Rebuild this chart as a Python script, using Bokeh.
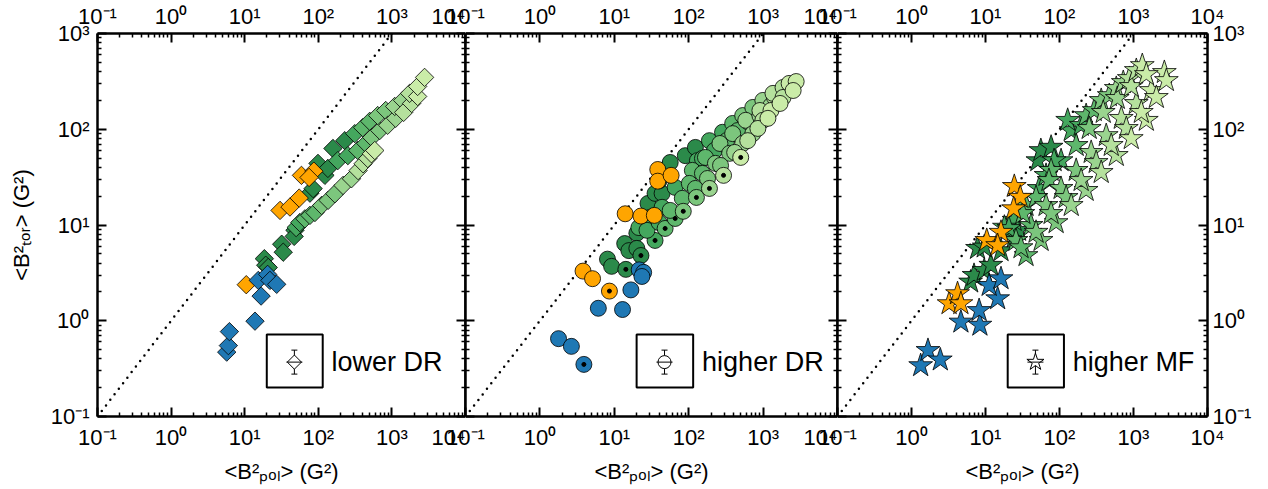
import math
from bokeh.plotting import figure
from bokeh.layouts import row
from bokeh.models import FixedTicker, LogAxis, Label, Range1d, CustomJSTickFormatter, Grid
from bokeh.embed import file_html
from bokeh.resources import INLINE

FONT = "Liberation Sans"

# ---------------- data ----------------
X_TICKS = [0.1, 1, 10, 100, 1000, 10000]
Y_TICKS = [0.1, 1, 10, 100, 1000]
DIAG = [0.1, 1000]

X_LABEL = "<B²ₚₒₗ> (G²)"
Y_LABEL = "<B²ₜₒᵣ> (G²)"
PANEL_NAMES = ["lower DR", "higher DR", "higher MF"]

GROUP_ORDER = ["g0", "g1", "g2", "g3", "g4", "g5", "g6", "o", "b"]
COLORS = {"b": "#1f78b4", "o": "#ffa500", "g0": "#2b8a4a", "g1": "#44a75e",
          "g2": "#5eb76c", "g3": "#7cc67d", "g4": "#9ad48f", "g5": "#b5e19d",
          "g6": "#caeca8"}

# panel 1 (lower DR), diamonds
P1_B_X = [5.7, 6.0, 6.2, 13.8, 16.7, 15.3, 20.5, 22, 27.2]
P1_B_Y = [0.47, 0.55, 0.77, 0.99, 1.81, 2.64, 3.05, 2.64, 2.4]
P1_O_X = [10.5, 30.2, 41.2, 55, 59, 87, 75]
P1_O_Y = [2.38, 14.2, 15.4, 19.1, 33, 36.5, 31.4]
P1_G_X = [18.5, 19.3, 20.9, 31.8, 33.4, 48.2, 47, 77, 85, 123, 99, 158, 229, 135,
          50, 56, 184, 252, 313,
          65.8, 77, 90, 344, 442, 402, 500,
          111, 136, 168, 532, 684, 642, 824,
          217, 282, 877, 1125, 1091, 1400,
          347, 406, 470, 1445, 1854, 1742,
          527, 585, 2238, 2238, 2782]
P1_G_Y = [4.45, 3.8, 3.6, 6.3, 5.2, 8.8, 7.6, 21.5, 24, 33, 44, 63, 76, 39,
          9.4, 10.6, 47, 53, 90,
          11.6, 12.6, 13.5, 60, 71, 104, 121,
          16, 18.1, 21.2, 82, 97, 139, 157,
          25.9, 30.4, 110, 130, 173, 200,
          37, 43.6, 49.5, 150, 186, 237,
          55.5, 60, 220, 280, 348]
P1_G_L = ["g0"] * 14 + ["g1"] * 5 + ["g2"] * 7 + ["g3"] * 7 + ["g4"] * 6 + ["g5"] * 6 + ["g6"] * 5

# panel 2 (higher DR), circles (dot = black centre dot)
P2_B_X = [1.78, 2.65, 3.9, 6.1, 12.9, 16.7, 21.6, 24.8, 23.5]
P2_B_Y = [0.65, 0.54, 0.35, 1.35, 1.31, 2.1, 3.4, 3.2, 2.9]
P2_B_D = [0, 0, 1, 0, 0, 0, 0, 0, 0]
P2_O_X = [3.8, 5.1, 8.6, 14, 22.8, 34.5, 38.4, 38.4, 58]
P2_O_Y = [3.3, 2.75, 2.04, 13.1, 12.4, 12.6, 38, 28.7, 33]
P2_O_D = [0, 0, 1, 0, 0, 0, 0, 0, 0]
P2_G_X = [8.1, 9.2, 13.8, 15.7, 20.1, 20.1, 28.4, 35.3, 43.9, 40, 56.4, 90, 123, 14.3, 22.8,
          21.4, 30.2, 43.9, 65.8, 131, 190, 285, 35.3, 153, 222, 27.5, 40,
          112, 168, 102, 153, 390, 48.2, 65.8, 323, 456, 56.4, 82, 123,
          263, 390, 229, 355, 532, 727, 84.5, 127, 642, 179, 268,
          585, 532, 727, 993, 190, 906, 1276, 415,
          906, 1426, 993, 1358, 1854, 294, 1854, 622, 851,
          2238, 1276, 1690, 2782, 500, 2535, 1161]
P2_G_Y = [4.4, 3.7, 6.4, 5.4, 8.2, 5.7, 16.8, 21.4, 21.4, 29, 45, 53, 64.6, 3.44, 4.8,
          9.4, 12, 15.3, 24.7, 47, 76, 93, 6.9, 49.5, 60, 8.8, 10.6,
          37.2, 50.8, 27.2, 34.6, 115, 9.2, 11.7, 76, 97, 14.2, 19, 24.1,
          71, 90, 44, 56, 139, 169, 13.9, 19.4, 118, 30.6, 41.9,
          124, 71, 90, 200, 24.1, 139, 177, 57.3,
          157, 215, 124, 237, 273, 33, 215, 76, 102,
          301, 157, 186, 315, 50.8, 254, 130]
P2_G_L = (["g0"] * 15 + ["g1"] * 12 + ["g2"] * 12 + ["g3"] * 11 + ["g4"] * 8
          + ["g5"] * 9 + ["g6"] * 7)
P2_G_D = ([0] * 13 + [1, 1]
          + [0] * 7 + [1] + [0] * 4
          + [0] * 5 + [1, 1] + [0] * 5
          + [0] * 6 + [1, 1] + [0] * 3
          + [0] * 4 + [1] + [0] * 3
          + [0] * 5 + [1] + [0] * 3
          + [0] * 4 + [1] + [0] * 2)

# panel 3 (higher MF), stars
P3_B_X = [1.33, 1.67, 2.45, 4.65, 8.4, 8.2, 14.6, 11.2, 16.2]
P3_B_Y = [0.34, 0.49, 0.39, 0.97, 0.90, 1.28, 1.70, 2.34, 2.75]
P3_O_X = [3.22, 4.19, 4.65, 10.4, 16.2, 14.6, 24.5, 29.5, 24]
P3_O_Y = [1.51, 1.92, 1.51, 6.9, 8.4, 6.1, 25.3, 19.5, 14.8]
P3_G_X = [6.3, 7.0, 9.6, 11.8, 7.8, 9.6, 16.2, 24.5, 28, 51, 56, 77,
          24.3, 53, 144, 129, 18, 20.7, 105, 84.5, 65.8, 196,
          35.3, 77, 229, 25.8, 41.2, 35.3, 30.2, 32, 48.2, 72, 168, 294,
          366, 65.8, 105, 168, 56.4, 90, 48.2, 77, 123, 252, 470,
          585, 268, 428, 144, 229, 196, 313, 390, 604, 727,
          877, 684, 1091, 366, 585, 500, 800, 933, 1091,
          1315, 2612, 1742, 2780, 933, 1490, 1276, 2036, 1490]
P3_G_Y = [2.54, 2.98, 3.36, 3.8, 5.7, 5.9, 5.4, 7.5, 8.8, 47, 60, 65,
          11.2, 24.1, 97, 124, 9.5, 9.2, 47, 47, 33, 110,
          16, 37.2, 139, 6.9, 9.9, 4.8, 5.8, 13.2, 19.4, 29.2, 67.8, 157,
          200, 16, 24.1, 37.2, 6.9, 10.6, 8.4, 13.2, 19.4, 102, 225,
          267, 57.3, 86, 16, 23, 29.2, 45, 150, 210, 308,
          339, 130, 186, 35.4, 53.3, 67.8, 102, 280, 411,
          463, 392, 254, 323, 80, 124, 150, 215, 373]
P3_G_L = (["g0"] * 12 + ["g1"] * 10 + ["g2"] * 12 + ["g3"] * 11 + ["g4"] * 10
          + ["g5"] * 9 + ["g6"] * 9)

# ---------------- helpers ----------------
X_MINOR = [k * 10.0 ** n for n in range(-1, 4) for k in range(2, 10)]
Y_MINOR = [k * 10.0 ** n for n in range(-1, 3) for k in range(2, 10)]

SUP_CODE = """
const m = {'-':'\u207b','0':'\u2070','1':'\u00b9','2':'\u00b2','3':'\u00b3','4':'\u2074','5':'\u2075','6':'\u2076','7':'\u2077','8':'\u2078','9':'\u2079'};
const e = Math.round(Math.log10(tick));
return '10' + String(e).split('').map(c => m[c]).join('');
"""


def fx(f):
    return 10 ** (-1 + 5 * f)


def fy(f):
    return 10 ** (3 - 4 * f)


def add_axis(p, side, labeled, label=None, standoff=5):
    is_x = side in ("below", "above")
    ax = LogAxis(ticker=FixedTicker(ticks=X_TICKS if is_x else Y_TICKS,
                                    minor_ticks=X_MINOR if is_x else Y_MINOR),
                 formatter=CustomJSTickFormatter(code=SUP_CODE if labeled else "return ''"))
    ax.axis_line_width = 2.5
    ax.axis_line_color = "black"
    ax.major_tick_in = 9
    ax.major_tick_out = 0
    ax.minor_tick_in = 4
    ax.minor_tick_out = 0
    ax.major_tick_line_width = 2
    ax.minor_tick_line_width = 1.5
    ax.major_label_text_font = FONT
    ax.major_label_text_font_size = "22px" if labeled else "1px"
    ax.major_label_text_color = "black"
    ax.major_label_standoff = standoff
    if label:
        ax.axis_label = label
        ax.axis_label_text_font = FONT
        ax.axis_label_text_font_size = "22px"
        ax.axis_label_text_font_style = "normal"
        ax.axis_label_text_color = "black"
        ax.axis_label_standoff = 6 if is_x else 14
    p.add_layout(ax, side)


def make_panel(idx, frame_w, bl, br, marker, size, gx, gy, gl, bx, by, ox, oy,
               gd=None, bd=None, od=None):
    p = figure(x_axis_type="log", y_axis_type="log",
               x_range=Range1d(0.1, 10000), y_range=Range1d(0.1, 1000),
               frame_width=frame_w, frame_height=383,
               min_border_left=bl, min_border_right=br,
               min_border_top=33, min_border_bottom=66,
               x_axis_location=None, y_axis_location=None,
               output_backend="svg", toolbar_location=None)
    p.border_fill_alpha = 0
    p.background_fill_alpha = 0
    p.outline_line_color = None
    for r in list(p.center):
        if isinstance(r, Grid):
            r.visible = False
    add_axis(p, "below", True, X_LABEL, standoff=8)
    add_axis(p, "above", True, None, standoff=5)
    add_axis(p, "left", idx == 0, Y_LABEL if idx == 0 else None, standoff=8)
    add_axis(p, "right", idx == 2, None, standoff=5)

    p.line(DIAG, DIAG, line_color="black", line_width=2.5, line_dash="0 7", line_cap="round")

    angle = math.pi / 4 if marker == "square" else 0
    groups = {"o": (ox, oy, od or [0] * len(ox)), "b": (bx, by, bd or [0] * len(bx))}
    gd = gd or [0] * len(gx)
    for name in GROUP_ORDER:
        if name in groups:
            xs, ys, ds = groups[name]
        else:
            sel = [i for i, l in enumerate(gl) if l == name]
            xs = [gx[i] for i in sel]
            ys = [gy[i] for i in sel]
            ds = [gd[i] for i in sel]
        p.scatter(xs, ys, marker=marker, size=size, angle=angle,
                  fill_color=COLORS[name], line_color="black", line_width=0.8)
        dx = [x for x, d in zip(xs, ds) if d]
        dy = [y for y, d in zip(ys, ds) if d]
        if dx:
            p.scatter(dx, dy, marker="circle", size=4, fill_color="black", line_color="black")

    # legend-like box
    p.quad(left=[fx(0.46)], right=[fx(0.612)], top=[fy(0.786)], bottom=[fy(0.924)],
           fill_color=None, line_color="black", line_width=2)
    mx, my = fx(0.535), fy(0.858)
    ex, ey, cap = 8 / 74.0, 12 / 95.8, 3 / 74.0
    p.segment(x0=[mx], y0=[my * 10 ** -ey], x1=[mx], y1=[my * 10 ** ey],
              line_color="black", line_width=1)
    p.segment(x0=[mx * 10 ** -cap, mx * 10 ** -cap], y0=[my * 10 ** -ey, my * 10 ** ey],
              x1=[mx * 10 ** cap, mx * 10 ** cap], y1=[my * 10 ** -ey, my * 10 ** ey],
              line_color="black", line_width=1)
    lsize = {"square": 10, "circle": 13, "star": 18}[marker]
    p.scatter([mx], [my], marker=marker, size=lsize, angle=angle,
              fill_color="white", line_color="black", line_width=1)
    p.segment(x0=[mx * 10 ** -ex], y0=[my], x1=[mx * 10 ** ex], y1=[my],
              line_color="black", line_width=1)
    p.add_layout(Label(x=fx(0.636), y=fy(0.858), text=PANEL_NAMES[idx],
                       text_font=FONT, text_font_size="27px", text_color="black",
                       text_baseline="middle", text_align="left"))
    return p


p1 = make_panel(0, 368, 97, 0, "square", 13, P1_G_X, P1_G_Y, P1_G_L,
                P1_B_X, P1_B_Y, P1_O_X, P1_O_Y)
p2 = make_panel(1, 372, 20, 0, "circle", 16, P2_G_X, P2_G_Y, P2_G_L,
                P2_B_X, P2_B_Y, P2_O_X, P2_O_Y, gd=P2_G_D, bd=P2_B_D, od=P2_O_D)
p3 = make_panel(2, 370, 20, 45, "star", 25, P3_G_X, P3_G_Y, P3_G_L,
                P3_B_X, P3_B_Y, P3_O_X, P3_O_Y)
p2.margin = (0, 0, 0, -20)
p3.margin = (0, 0, 0, -20)

layout = row(p1, p2, p3)
open("out.html", "w").write(file_html(layout, INLINE))
